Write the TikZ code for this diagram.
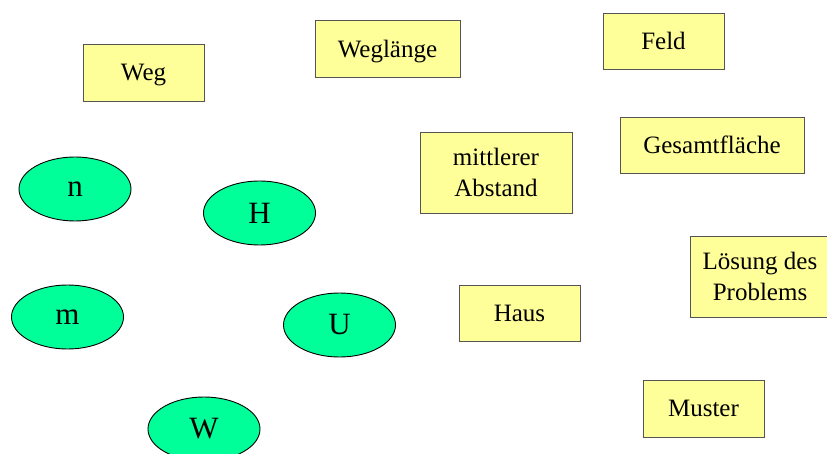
\documentclass[tikz,border=0pt]{standalone}
\usepackage{fontspec}
\setmainfont{Liberation Serif}
\usetikzlibrary{shapes.geometric}

\definecolor{boxfill}{RGB}{255,255,153}
\definecolor{boxline}{RGB}{85,85,85}
\definecolor{ovalfill}{RGB}{0,255,153}

\begin{document}
\begin{tikzpicture}[x=1pt,y=1pt,yscale=-1,xscale=1,
  term/.style={draw=boxline,fill=boxfill,line width=0.9pt,inner sep=0pt,text depth=0pt,align=center,font=\fontsize{25}{31}\selectfont},
  var/.style={ellipse,draw=black,fill=ovalfill,line width=0.9pt,inner sep=0pt,minimum width=112pt,minimum height=64pt,font=\fontsize{31}{36}\selectfont}]
\useasboundingbox (0,0) rectangle (827,454);

% Rectangles
\node [term, minimum width=121pt, minimum height=57pt] (weg) at (143.5,72.5) {Weg};
\node [term, minimum width=145pt, minimum height=57pt] (weglaenge) at (387.5,48.5) {Weglänge};
\node [term, minimum width=121pt, minimum height=56pt] (feld) at (663.5,41) {Feld};
\node [term, minimum width=152pt, minimum height=81pt] (abstand) at (496,172.5) {mittlerer\\Abstand};
\node [term, minimum width=184pt, minimum height=56pt] (flaeche) at (712,145) {Gesamtfläche};
\node [term, minimum width=140pt, minimum height=81pt] (loesung) at (760,276.5) {Lösung des\\Problems};
\node [term, minimum width=121pt, minimum height=56pt] (haus) at (519.5,313) {Haus};
\node [term, minimum width=121pt, minimum height=57pt] (muster) at (703.5,408.5) {Muster};

% Ellipses
\node [var] (n) at (75,189) {n};
\node [var] (h) at (259.5,213) {H};
\node [var] (m) at (67.5,317) {m};
\node [var] (u) at (339.5,325) {U};
\node [var] (w) at (204,429) {W};

\end{tikzpicture}
\end{document}
